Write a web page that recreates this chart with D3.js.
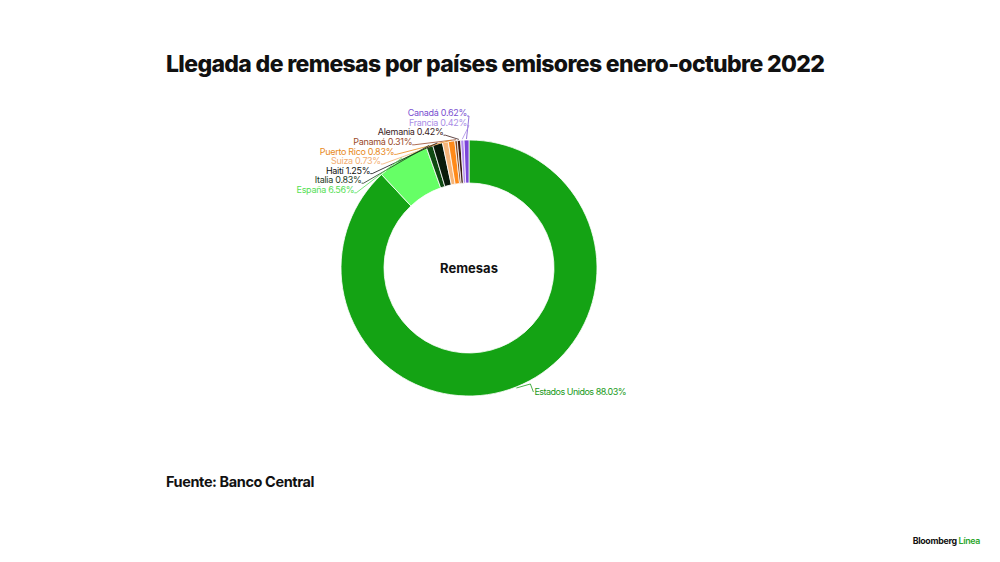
<!DOCTYPE html>
<html>
<head>
<meta charset="utf-8">
<script src="https://cdn.jsdelivr.net/npm/d3@7"></script>
<style>
  html, body { margin: 0; padding: 0; background: #fff; }
  svg { display: block; font-family: Inter, "Noto Sans", sans-serif; }
</style>
</head>
<body>
<div id="chart"></div>
<script>
// Remittance share by sending country, Jan-Oct 2022 (clockwise from top)
const countries = ["Estados Unidos", "España", "Italia", "Haití", "Suiza",
                   "Puerto Rico", "Panamá", "Alemania", "Francia", "Canadá"];
const shares = [88.03, 6.56, 0.83, 1.25, 0.73, 0.83, 0.31, 0.42, 0.42, 0.62];
const sliceColors = ["#14a314", "#66ff66", "#0f4a12", "#0a1a0a", "#f6b57a",
                     "#ff8a1a", "#8a4a20", "#3a1a10", "#b48cf0", "#7a45d8"];
const labelColors = ["#1a9a1a", "#55e055", "#1e3a1e", "#111111", "#f3ae72",
                     "#e8891a", "#9a4a2a", "#3b1c1c", "#a98de6", "#7a50d0"];

const width = 1000, height = 562;
const cx = 469, cy = 268;
const outerR = 128, innerR = 85;

const data = countries.map((c, i) => ({
    country: c, value: shares[i], fill: sliceColors[i], text: labelColors[i]
}));

const svg = d3.select("#chart").append("svg")
    .attr("width", width)
    .attr("height", height);

// Title
svg.append("text")
    .attr("x", 166)
    .attr("y", 72)
    .attr("font-size", 23)
    .attr("font-weight", 800)
    .attr("textLength", 659)
    .attr("lengthAdjust", "spacing")
    .attr("fill", "#111")
    .text("Llegada de remesas por países emisores enero-octubre 2022");

const g = svg.append("g")
    .attr("transform", `translate(${cx},${cy})`);

const pie = d3.pie()
    .value(d => d.value)
    .sort(null);

const arc = d3.arc()
    .innerRadius(innerR)
    .outerRadius(outerR);

const arcs = pie(data);

g.selectAll(".slice")
    .data(arcs)
    .enter()
    .append("path")
    .attr("class", "slice")
    .attr("d", arc)
    .attr("fill", d => d.data.fill)
    .attr("stroke", "#fff")
    .attr("stroke-width", 0.8);

// Center label
g.append("text")
    .attr("text-anchor", "middle")
    .attr("dy", "0.35em")
    .attr("font-size", 13)
    .attr("font-weight", 700)
    .attr("fill", "#111")
    .text("Remesas");

// Labels for small slices: stacked upward-left, hugging a circle just outside the ring
const labelR = outerR + 10;
const step = 9.6;
const small = arcs.slice(1).reverse(); // Canadá first (top)
small.forEach((d, k) => {
    const ly = -155 + k * step;
    const lx = Math.min(-1, -Math.sqrt(Math.max(0, labelR * labelR - ly * ly)));
    d.lx = lx;
    d.ly = ly;
});

function edgePoint(d, r) {
    const a = (d.startAngle + d.endAngle) / 2;
    return [Math.sin(a) * r, -Math.cos(a) * r];
}

const labelGroup = g.append("g");

small.forEach(d => {
    const p0 = edgePoint(d, outerR + 1);
    labelGroup.append("polyline")
        .attr("points", [p0, [d.lx + 1, d.ly + 3], [d.lx - 1, d.ly + 3]].map(p => p.join(",")).join(" "))
        .attr("fill", "none")
        .attr("stroke", d.data.text)
        .attr("stroke-width", 0.8);
    labelGroup.append("text")
        .attr("x", d.lx - 1)
        .attr("y", d.ly)
        .attr("dy", "0.35em")
        .attr("text-anchor", "end")
        .attr("font-size", 9)
        .attr("letter-spacing", -0.3)
        .attr("fill", d.data.text)
        .text(`${d.data.country} ${d.data.value.toFixed(2)}%`);
});

// Big slice label
const big = arcs[0];
const b0 = edgePoint(big, outerR + 1);
labelGroup.append("polyline")
    .attr("points", [b0, [b0[0] + 14, b0[1] - 4], [b0[0] + 17, b0[1] + 4]].map(p => p.join(",")).join(" "))
    .attr("fill", "none")
    .attr("stroke", big.data.text)
    .attr("stroke-width", 0.8);
labelGroup.append("text")
    .attr("x", b0[0] + 18)
    .attr("y", b0[1] + 4)
    .attr("dy", "0.35em")
    .attr("font-size", 9)
    .attr("letter-spacing", -0.5)
    .attr("fill", big.data.text)
    .text(`${big.data.country} ${big.data.value.toFixed(2)}%`);

// Source
svg.append("text")
    .attr("x", 166)
    .attr("y", 487)
    .attr("font-size", 14.5)
    .attr("font-weight", 700)
    .attr("letter-spacing", -0.4)
    .attr("fill", "#111")
    .text("Fuente: Banco Central");

// Brand
const brand = svg.append("text")
    .attr("x", 980)
    .attr("y", 544)
    .attr("text-anchor", "end")
    .attr("font-size", 8.8)
    .attr("font-weight", 700)
    .attr("letter-spacing", -0.3);
brand.append("tspan").attr("fill", "#111").text("Bloomberg ");
brand.append("tspan").attr("fill", "#2aa52a").attr("font-weight", 600).text("Línea");
</script>
</body>
</html>
